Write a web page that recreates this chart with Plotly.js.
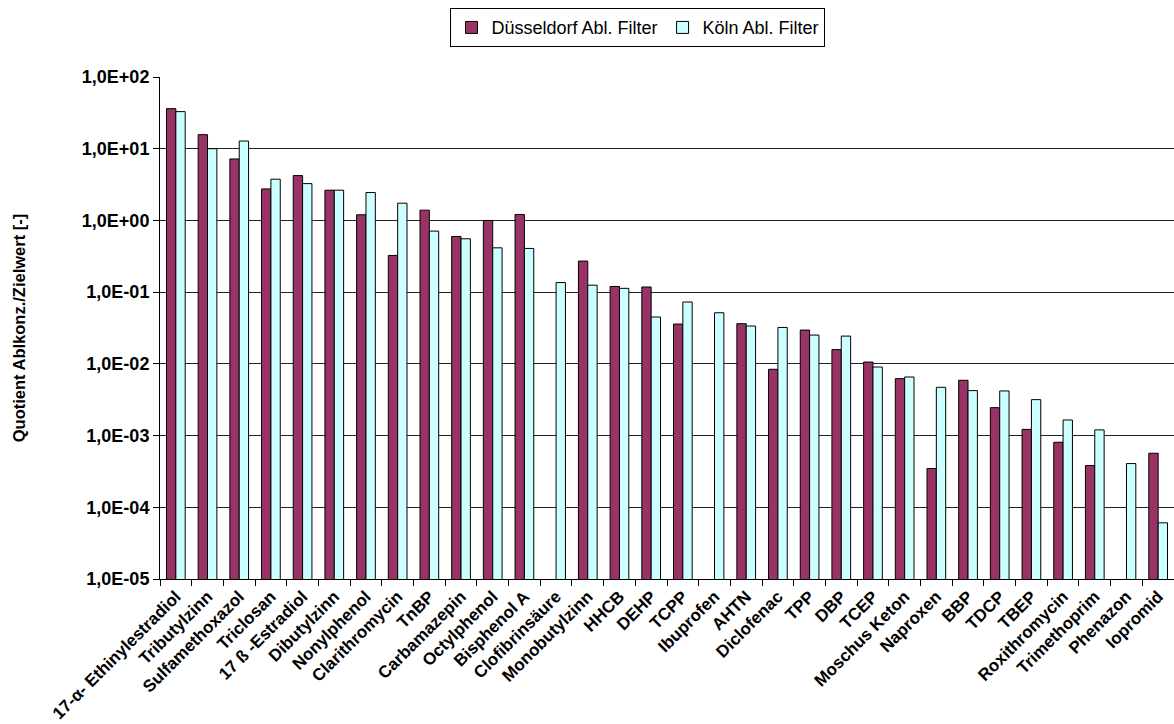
<!DOCTYPE html>
<html>
<head>
<meta charset="utf-8">
<script src="https://cdn.plot.ly/plotly-3.0.1.min.js"></script>
<style>html,body{margin:0;padding:0;background:#fff;}#chart{width:1174px;height:724px;}</style>
</head>
<body>
<div id="chart"></div>
<script>
const categories = ["17-α- Ethinylestradiol","Tributylzinn","Sulfamethoxazol","Triclosan","17 ß -Estradiol","Dibutylzinn","Nonylphenol","Clarithromycin","TnBP","Carbamazepin","Octylphenol","Bisphenol A","Clofibrinsäure","Monobutylzinn","HHCB","DEHP","TCPP","Ibuprofen","AHTN","Diclofenac","TPP","DBP","TCEP","Moschus Keton","Naproxen","BBP","TDCP","TBEP","Roxithromycin","Trimethoprim","Phenazon","Iopromid"];
const duesseldorf = [36.2,15.7,7.2,2.75,4.22,2.64,1.2,0.325,1.39,0.597,1.0,1.21,null,0.271,0.12,0.118,0.0359,null,0.0363,0.0084,0.0296,0.0158,0.0106,0.00622,0.000347,0.0059,0.00245,0.00122,0.000807,0.000382,null,0.000567];
const koeln = [32.9,10.0,12.8,3.76,3.26,2.64,2.45,1.74,0.71,0.555,0.415,0.407,0.136,0.125,0.113,0.045,0.0728,0.0516,0.0337,0.0322,0.0252,0.0244,0.00904,0.00656,0.00471,0.00424,0.00419,0.00317,0.00165,0.0012,0.000407,0.0000607];
const seriesNames = ["Düsseldorf Abl. Filter","Köln Abl. Filter"];
const yTickVals = [1e-5,1e-4,1e-3,1e-2,1e-1,1,10,100];
const yTickText = ["1,0E-05","1,0E-04","1,0E-03","1,0E-02","1,0E-01","1,0E+00","1,0E+01","1,0E+02"];

const fontFam = "Liberation Sans, Arial, sans-serif";
const traces = [
  {type:"bar", name:seriesNames[0], x:categories, y:duesseldorf,
   marker:{color:"#993366", line:{color:"#000", width:1}}},
  {type:"bar", name:seriesNames[1], x:categories, y:koeln,
   marker:{color:"#CCFFFF", line:{color:"#000", width:1}}}
];
const layout = {
  width:1174, height:724,
  margin:{l:160, r:0, t:77, b:145},
  paper_bgcolor:"#fff", plot_bgcolor:"#fff",
  barmode:"group", bargap:0.41, bargroupgap:0,
  font:{family:fontFam, color:"#000"},
  showlegend:true,
  legend:{orientation:"h", x:0.4714, xanchor:"center", y:1.137, yanchor:"top",
    bordercolor:"#000", borderwidth:1, font:{size:18, family:fontFam}, bgcolor:"#fff",
    itemwidth:30, tracegroupgap:0},
  xaxis:{type:"category", tickangle:-45, tickson:"boundaries", ticks:"outside", ticklen:6,
    tickcolor:"#000", showline:true, linecolor:"#000", linewidth:1, showgrid:false,
    tickfont:{size:17, family:fontFam, weight:"bold"}, automargin:false, range:[-0.5,31.5]},
  yaxis:{type:"log", range:[-5,2], tickvals:yTickVals, ticktext:yTickText,
    ticks:"outside", ticklen:6, tickcolor:"#000", showline:true, linecolor:"#000", linewidth:1,
    showgrid:true, gridcolor:"#222", gridwidth:1, zeroline:false,
    tickfont:{size:18, family:fontFam, weight:"bold"},
    title:{text:"Quotient Ablkonz./Zielwert [-]", font:{size:16.5, family:fontFam, weight:"bold"}, standoff:52},
    automargin:false}
};
Plotly.newPlot("chart", traces, layout, {displayModeBar:false, staticPlot:true});
</script>
</body>
</html>
